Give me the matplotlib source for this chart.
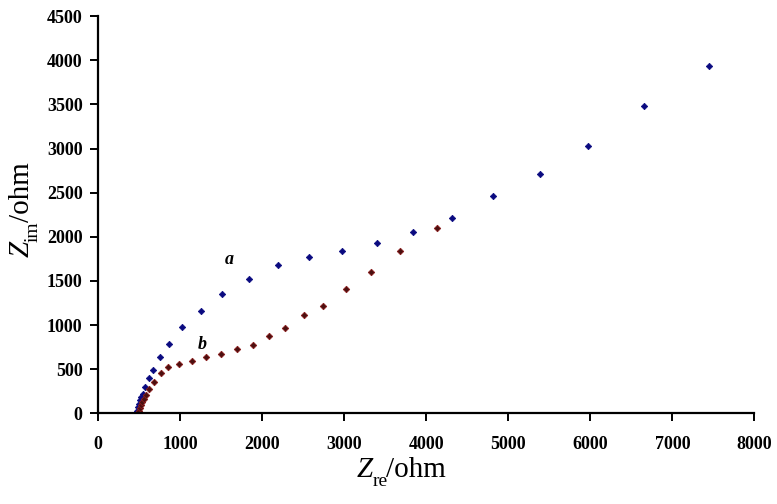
import matplotlib
matplotlib.use('Agg')
import matplotlib.pyplot as plt

plt.rcParams['font.family'] = 'Liberation Serif'

# curve a (blue)
a_re = [480, 490, 500, 510, 525, 546, 574, 623, 668, 757, 871, 1030, 1258, 1518,
        1835, 2189, 2568, 2976, 3403, 3838, 4314, 4819, 5381, 5971, 6654, 7440]
a_im = [30, 70, 110, 150, 190, 224, 299, 405, 489, 640, 784, 975, 1162, 1349,
        1523, 1685, 1769, 1841, 1935, 2053, 2212, 2458, 2716, 3031, 3481, 3932]

# curve b (dark red)
b_re = [492, 500, 510, 520, 535, 558, 586, 627, 684, 766, 859, 993, 1144, 1319,
        1500, 1691, 1886, 2085, 2280, 2512, 2745, 3024, 3325, 3683, 4134]
b_im = [5, 30, 60, 95, 130, 165, 205, 280, 356, 451, 526, 557, 594, 640,
        667, 724, 772, 874, 965, 1112, 1221, 1406, 1602, 1835, 2103]

W, H = 777, 504
fig = plt.figure(figsize=(W / 100, H / 100), dpi=100)
ax = fig.add_axes([0.126, 0.18, 0.845, 0.788])

ax.plot(a_re, a_im, 'D', ms=3.3, color='#0a0a80', mec='#0a0a80', mew=0.5)
ax.plot(b_re, b_im, 'D', ms=3.3, color='#4a1010', mec='#8a1c1c', mew=0.6)

ax.text(1603, 1747, 'a', fontsize=13, style='italic', fontweight='bold', ha='center', va='center')
ax.text(1274, 780, 'b', fontsize=13, style='italic', fontweight='bold', ha='center', va='center')

ax.set_xlim(0, 8000)
ax.set_ylim(0, 4500)
ax.set_xticks(range(0, 8001, 1000))
ax.set_yticks(range(0, 4501, 500))
for s in ['top', 'right']:
    ax.spines[s].set_visible(False)
for s in ['left', 'bottom']:
    ax.spines[s].set_linewidth(1.6)
ax.tick_params(direction='out', length=6, width=1.4, labelsize=13)
ax.tick_params(axis='x', pad=10)
ax.tick_params(axis='y', pad=5)
for lab in ax.get_xticklabels() + ax.get_yticklabels():
    lab.set_fontweight('bold')

renderer = fig.canvas.get_renderer()


def axis_label(x0, y0, sub, drop, vertical=False):
    # Z, lowered subscript, then /ohm -- placed piece by piece in pixels
    parts = [('Z', 21, 'italic', 0), (sub, 14, 'normal', drop), ('/ohm', 21, 'normal', 0)]
    pos = y0 if vertical else x0
    for txt, fs, st, off in parts:
        if vertical:
            t = fig.text((x0 + off) / W, pos / H, txt, fontsize=fs, fontstyle=st, rotation=90,
                         rotation_mode='anchor', ha='left', va='baseline')
            pos = t.get_window_extent(renderer).y1 - 1
        else:
            t = fig.text(pos / W, (y0 - off) / H, txt, fontsize=fs, fontstyle=st,
                         ha='left', va='baseline')
            pos = t.get_window_extent(renderer).x1 - 1


axis_label(357, 27, 're', 9)
axis_label(29, 247, 'im', 9, vertical=True)

fig.savefig('out.png', dpi=100)
